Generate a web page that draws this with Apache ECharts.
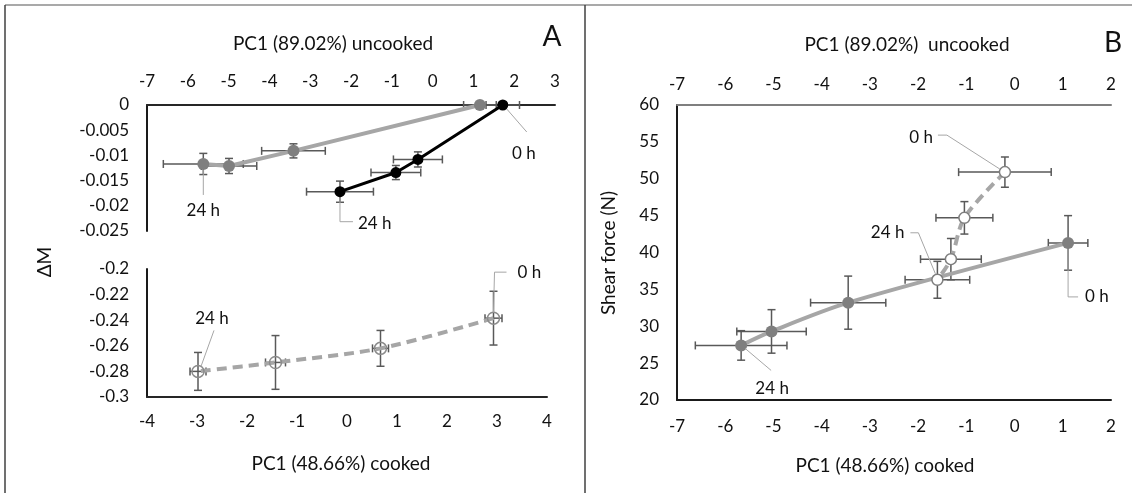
<!DOCTYPE html>
<html>
<head>
<meta charset="utf-8">
<script src="https://cdn.jsdelivr.net/npm/echarts@6/dist/echarts.min.js"></script>
<style>
  html, body { margin: 0; padding: 0; background: #fff; }
  #chart { width: 1132px; height: 493px; }
</style>
</head>
<body>
<div id="chart"></div>
<script>
// panel A, top: dM vs PC1 uncooked (0 h first, 24 h last)
const grayUncX = [1.16, -3.41, -4.99, -5.62];
const grayUncY = [0, -0.0091, -0.0121, -0.0117];
const grayUncXErr = [0.4, 0.78, 0.68, 0.98];
const grayUncYErr = [0.0003, 0.0014, 0.0015, 0.0021];

const blackUncX = [1.72, -0.36, -0.9, -2.27];
const blackUncY = [0, -0.0108, -0.0134, -0.0172];
const blackUncXErr = [0.41, 0.6, 0.61, 0.82];
const blackUncYErr = [0.0003, 0.0015, 0.0014, 0.0021];

// panel A, bottom: dM vs PC1 cooked
const cookedX = [2.93, 0.67, -1.43, -2.98];
const cookedY = [-0.2384, -0.262, -0.273, -0.28];
const cookedXErr = [0.17, 0.16, 0.2, 0.16];
const cookedYErr = [0.021, 0.014, 0.021, 0.0148];

// panel B: shear force vs PC1
const shearUncX = [1.11, -3.45, -5.04, -5.67];
const shearUncY = [41.3, 33.2, 29.3, 27.4];
const shearUncXErr = [0.41, 0.78, 0.72, 0.95];
const shearUncYErr = [3.7, 3.6, 2.95, 2.0];

const shearCookX = [-0.2, -1.04, -1.32, -1.6];
const shearCookY = [50.9, 44.7, 39.1, 36.3];
const shearCookXErr = [0.96, 0.59, 0.63, 0.67];
const shearCookYErr = [2.05, 2.2, 2.8, 2.5];

const FONT = 'Lato';
const zip = (xs, ys) => xs.map((x, i) => [x, ys[i]]);

var chart = echarts.init(document.getElementById('chart'));

function errBars(xi, yi, xs, ys, xe, ye) {
  return {
    type: 'custom', xAxisIndex: xi, yAxisIndex: yi, silent: true, z: 1,
    data: xs.map((x, i) => [x, ys[i], xe[i], ye[i]]),
    encode: { x: 0, y: 1 },
    renderItem(params, api) {
      const x = api.value(0), y = api.value(1), dx = api.value(2), dy = api.value(3);
      const c = api.coord([x, y]);
      const l = api.coord([x - dx, y])[0], r = api.coord([x + dx, y])[0];
      const t = api.coord([x, y + dy])[1], b = api.coord([x, y - dy])[1];
      const cap = 4;
      const st = { stroke: '#595959', lineWidth: 1.5 };
      const seg = (x1, y1, x2, y2) => ({ type: 'line', shape: { x1, y1, x2, y2 }, style: st });
      return {
        type: 'group',
        children: [
          seg(l, c[1], r, c[1]), seg(c[0], t, c[0], b),
          seg(l, c[1] - cap, l, c[1] + cap), seg(r, c[1] - cap, r, c[1] + cap),
          seg(c[0] - cap, t, c[0] + cap, t), seg(c[0] - cap, b, c[0] + cap, b)
        ]
      };
    }
  };
}

// time labels with leader lines; path / label are pixel offsets from the point
function notes(xi, yi, list) {
  return {
    type: 'custom', xAxisIndex: xi, yAxisIndex: yi, silent: true, z: 6,
    data: list.map(n => n.at),
    encode: { x: 0, y: 1 },
    renderItem(params, api) {
      const n = list[params.dataIndex];
      const p = api.coord([api.value(0), api.value(1)]);
      return {
        type: 'group',
        children: [
          { type: 'polyline', shape: { points: n.path.map(o => [p[0] + o[0], p[1] + o[1]]) },
            style: { stroke: '#a6a6a6', lineWidth: 1, fill: null } },
          { type: 'text', x: p[0] + n.label[0], y: p[1] + n.label[1],
            style: { text: n.text, fontSize: 17, fontFamily: FONT, fill: '#111',
                     align: n.align, verticalAlign: 'middle' } }
        ]
      };
    }
  };
}

function xAx(grid, pos, min, max, margin, lineColor) {
  return {
    type: 'value', gridIndex: grid, position: pos, min, max, interval: 1,
    splitLine: { show: false }, axisTick: { show: false },
    axisLine: { onZero: false, lineStyle: { color: lineColor, width: 2 } },
    axisLabel: { margin, fontSize: 17, fontFamily: FONT, color: '#111', showMinLabel: true, showMaxLabel: true }
  };
}
function yAx(grid, min, max, step, dec) {
  return {
    type: 'value', gridIndex: grid, min, max, interval: step,
    splitLine: { show: false }, axisTick: { show: false },
    axisLine: { show: true, onZero: false, lineStyle: { color: '#1a1a1a', width: 2 } },
    axisLabel: { margin: 18, fontSize: 17, fontFamily: FONT, color: '#111',
                 formatter: v => String(+v.toFixed(dec)) }
  };
}

const txt = (text, x, y, size, rot) => ({
  type: 'text', x, y, rotation: rot || 0,
  style: { text, fontSize: size, fontFamily: FONT, fill: '#111', align: 'center', verticalAlign: 'middle' }
});
const rule = (x1, y1, x2, y2, color) => ({
  type: 'line', shape: { x1, y1, x2, y2 }, style: { stroke: color, lineWidth: 1.5 }
});

chart.setOption({
  animation: false,
  grid: [
    { left: 147, top: 105, width: 408, height: 126, outerBoundsMode: 'none' },
    { left: 147, top: 269, width: 400, height: 128, outerBoundsMode: 'none' },
    { left: 677, top: 105, width: 434, height: 295, outerBoundsMode: 'none' }
  ],
  xAxis: [
    xAx(0, 'top', -7, 3, 15, '#262626'),
    xAx(1, 'bottom', -4, 4, 16, '#262626'),
    xAx(2, 'top', -7, 2, 12, '#7f7f7f'),
    xAx(2, 'bottom', -7, 2, 18, '#1a1a1a')
  ],
  yAxis: [
    yAx(0, -0.025, 0, 0.005, 3),
    yAx(1, -0.3, -0.2, 0.02, 2),
    yAx(2, 20, 60, 5, 0)
  ],
  graphic: [
    rule(5, 5, 1132, 5, '#8c8c8c'),
    rule(5, 5, 5, 493, '#404040'),
    rule(585, 5, 585, 493, '#404040'),
    txt('PC1 (89.02%) uncooked', 333, 44, 19),
    txt('A', 552, 37, 28),
    txt('ΔM', 45, 262, 19, Math.PI / 2),
    txt('PC1 (48.66%) cooked', 341, 464, 19),
    txt('PC1 (89.02%)  uncooked', 907, 45, 19),
    txt('B', 1113, 43, 28),
    txt('PC1 (48.66%) cooked', 885, 466, 19),
    txt('Shear force (N)', 609, 253, 19, Math.PI / 2)
  ],
  series: [
    errBars(0, 0, grayUncX, grayUncY, grayUncXErr, grayUncYErr),
    errBars(0, 0, blackUncX, blackUncY, blackUncXErr, blackUncYErr),
    errBars(1, 1, cookedX, cookedY, cookedXErr, cookedYErr),
    errBars(2, 2, shearUncX, shearUncY, shearUncXErr, shearUncYErr),
    errBars(3, 2, shearCookX, shearCookY, shearCookXErr, shearCookYErr),
    {
      type: 'line', xAxisIndex: 0, yAxisIndex: 0, data: zip(grayUncX, grayUncY), z: 3, silent: true,
      symbol: 'circle', symbolSize: 12,
      lineStyle: { color: '#a6a6a6', width: 4 }, itemStyle: { color: '#7f7f7f' }
    },
    {
      type: 'line', xAxisIndex: 0, yAxisIndex: 0, data: zip(blackUncX, blackUncY), z: 3, silent: true,
      symbol: 'circle', symbolSize: 11,
      lineStyle: { color: '#000', width: 3 }, itemStyle: { color: '#000' }
    },
    {
      type: 'line', xAxisIndex: 1, yAxisIndex: 1, data: zip(cookedX, cookedY), z: 3, silent: true,
      smooth: 0.3, symbol: 'circle', symbolSize: 12,
      lineStyle: { color: '#a6a6a6', width: 4, type: [10, 6] },
      itemStyle: { color: 'rgba(255,255,255,0)', borderColor: '#8c8c8c', borderWidth: 1.5 }
    },
    {
      type: 'line', xAxisIndex: 2, yAxisIndex: 2, data: zip(shearUncX, shearUncY), z: 3, silent: true,
      smooth: 0.3, symbol: 'circle', symbolSize: 12,
      lineStyle: { color: '#a6a6a6', width: 4 }, itemStyle: { color: '#7f7f7f' }
    },
    {
      type: 'line', xAxisIndex: 3, yAxisIndex: 2, data: zip(shearCookX, shearCookY), z: 4, silent: true,
      smooth: 0.3, symbol: 'circle', symbolSize: 11,
      lineStyle: { color: '#a6a6a6', width: 4, type: [10, 6] },
      itemStyle: { color: '#fff', borderColor: '#7f7f7f', borderWidth: 1.5 }
    },
    notes(0, 0, [
      { at: [grayUncX[3], grayUncY[3]], text: '24 h', path: [[0, 6], [0, 31]], label: [0, 47], align: 'center' },
      { at: [blackUncX[3], blackUncY[3]], text: '24 h', path: [[0, 6], [0, 30], [13, 30]], label: [18, 32], align: 'left' },
      { at: [blackUncX[0], blackUncY[0]], text: '0 h', path: [[4, 4], [24, 27]], label: [21, 49], align: 'center' }
    ]),
    notes(1, 1, [
      { at: [cookedX[3], cookedY[3]], text: '24 h', path: [[3, -5], [16, -41]], label: [14, -53], align: 'center' },
      { at: [cookedX[0], cookedY[0]], text: '0 h', path: [[0, -6], [1, -46], [13, -46]], label: [24, -46], align: 'left' }
    ]),
    notes(3, 2, [
      { at: [shearCookX[0], shearCookY[0]], text: '0 h', path: [[-5, -3], [-58, -37], [-67, -37]], label: [-72, -35], align: 'right' },
      { at: [shearCookX[3], shearCookY[3]], text: '24 h', path: [[-2, -6], [-19, -47], [-27, -47]], label: [-33, -47], align: 'right' }
    ]),
    notes(2, 2, [
      { at: [shearUncX[0], shearUncY[0]], text: '0 h', path: [[0, 6], [0, 54], [10, 54]], label: [17, 54], align: 'left' },
      { at: [shearUncX[3], shearUncY[3]], text: '24 h', path: [[4, 3], [30, 25]], label: [31, 43], align: 'center' }
    ])
  ]
});
</script>
</body>
</html>
